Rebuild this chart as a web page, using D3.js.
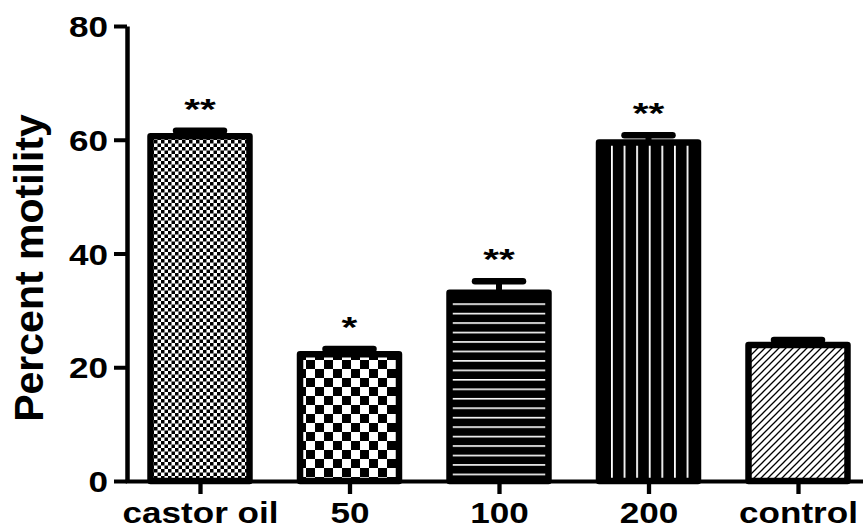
<!DOCTYPE html>
<html>
<head>
<meta charset="utf-8">
<script src="https://cdn.jsdelivr.net/npm/d3@7"></script>
<style>
  body { margin: 0; background: #fff; }
  svg text { font-family: "Liberation Sans", Arial, sans-serif; font-weight: bold; fill: #000; }
</style>
</head>
<body>
<div id="chart"></div>
<script>
// values
const categories = ["castor oil", "50", "100", "200", "control"];
const means = [60.6, 22.3, 33.1, 59.5, 23.9];
const sems = [1.0, 0.9, 2.0, 1.3, 0.9];
const stars = ["**", "*", "**", "**", ""];
const yTicks = [0, 20, 40, 60, 80];

const W = 863, H = 529;
const patternIds = ["fineCheck", "coarseCheck", "hLines", "vLines", "diag"];
const stretch = 1.21; // text in the picture is a bit wide

const svg = d3.select("#chart").append("svg")
    .attr("width", W)
    .attr("height", H);

// fill patterns
const defs = svg.append("defs");
function pat(id, w, h, ox, oy) {
    return defs.append("pattern")
        .attr("id", id)
        .attr("patternUnits", "userSpaceOnUse")
        .attr("x", ox).attr("y", oy)
        .attr("width", w).attr("height", h);
}
var p = pat("fineCheck", 7, 7, 0, 0);
p.append("rect").attr("width", 7).attr("height", 7).attr("fill", "#fff");
p.append("rect").attr("width", 3.5).attr("height", 3.5).attr("fill", "#000");
p.append("rect").attr("x", 3.5).attr("y", 3.5).attr("width", 3.5).attr("height", 3.5).attr("fill", "#000");

p = pat("coarseCheck", 18, 18, 0, 0);
p.append("rect").attr("width", 18).attr("height", 18).attr("fill", "#fff");
p.append("rect").attr("width", 9).attr("height", 9).attr("fill", "#000");
p.append("rect").attr("x", 9).attr("y", 9).attr("width", 9).attr("height", 9).attr("fill", "#000");

p = pat("hLines", 10, 9.46, 0, 0.6);
p.append("rect").attr("width", 10).attr("height", 9.46).attr("fill", "#000");
p.append("rect").attr("width", 10).attr("height", 1.6).attr("fill", "#fff");

p = pat("vLines", 12.6, 10, 6.2, 0);
p.append("rect").attr("width", 12.6).attr("height", 10).attr("fill", "#000");
p.append("rect").attr("width", 1.8).attr("height", 10).attr("fill", "#fff");

p = pat("diag", 7, 7, 0, 0);
p.append("rect").attr("width", 7).attr("height", 7).attr("fill", "#fff");
p.append("path").attr("d", "M-1,1 l2,-2 M0,7 l7,-7 M6,8 l2,-2")
    .attr("stroke", "#000").attr("stroke-width", 1.3);

// scales
const x = d3.scalePoint().domain(categories).range([125.25, 872.75]).padding(0.5);
const y = d3.scaleLinear().domain([0, 80]).range([481, 26]);
const bw = x.step() * 0.662;

// bars
svg.selectAll(".bar")
    .data(categories)
    .enter().append("rect")
    .attr("class", "bar")
    .attr("x", (d) => x(d) - bw / 2)
    .attr("y", (d, i) => y(means[i]))
    .attr("width", bw)
    .attr("height", (d, i) => y(0) - y(means[i]))
    .attr("fill", (d, i) => "url(#" + patternIds[i] + ")")
    .attr("stroke", "#000")
    .attr("stroke-width", 6.5)
    .attr("stroke-linejoin", "round");

// error bars
const err = svg.selectAll(".err")
    .data(categories)
    .enter().append("g")
    .attr("class", "err");
err.append("line")
    .attr("x1", (d) => x(d)).attr("x2", (d) => x(d))
    .attr("y1", (d, i) => y(means[i]))
    .attr("y2", (d, i) => y(means[i] + sems[i]))
    .attr("stroke", "#000").attr("stroke-width", 6);
err.append("line")
    .attr("x1", (d) => x(d) - 24).attr("x2", (d) => x(d) + 24)
    .attr("y1", (d, i) => y(means[i] + sems[i]))
    .attr("y2", (d, i) => y(means[i] + sems[i]))
    .attr("stroke", "#000").attr("stroke-width", 6.5)
    .attr("stroke-linecap", "round");

// significance stars
svg.selectAll(".star")
    .data(categories)
    .enter().append("text")
    .attr("class", "star")
    .attr("text-anchor", "middle")
    .attr("font-size", "30px")
    .attr("font-weight", "normal")
    .attr("transform", (d, i) => "translate(" + x(d) + "," + (y(means[i] + sems[i]) - 12) + ") scale(1.35,1)")
    .text((d, i) => stars[i]);

// y axis
const gy = svg.append("g")
    .attr("transform", "translate(127,0)")
    .call(d3.axisLeft(y).tickValues(yTicks).tickSize(13).tickSizeOuter(0));
gy.select(".domain").attr("stroke-width", 4.5);
gy.selectAll(".tick line").attr("stroke-width", 4);
gy.selectAll(".tick text")
    .attr("x", 0).attr("dy", 0)
    .attr("font-size", "29px")
    .attr("transform", "translate(-19,10.5) scale(" + stretch + ",1)");

// x axis
const gx = svg.append("g")
    .attr("transform", "translate(0,481)")
    .call(d3.axisBottom(x).tickSize(13).tickSizeOuter(0));
gx.select(".domain").attr("stroke-width", 4);
gx.selectAll(".tick line").attr("stroke-width", 4.3);
gx.selectAll(".tick text")
    .attr("y", 0).attr("dy", 0)
    .attr("font-size", "29px")
    .attr("transform", "translate(0,42) scale(" + stretch + ",1)");

svg.selectAll(".domain, .tick line").attr("stroke", "#000");

// y axis title
svg.append("text")
    .attr("transform", "translate(43,268) rotate(-90)")
    .attr("text-anchor", "middle")
    .attr("font-size", "41px")
    .text("Percent motility");
</script>
</body>
</html>
